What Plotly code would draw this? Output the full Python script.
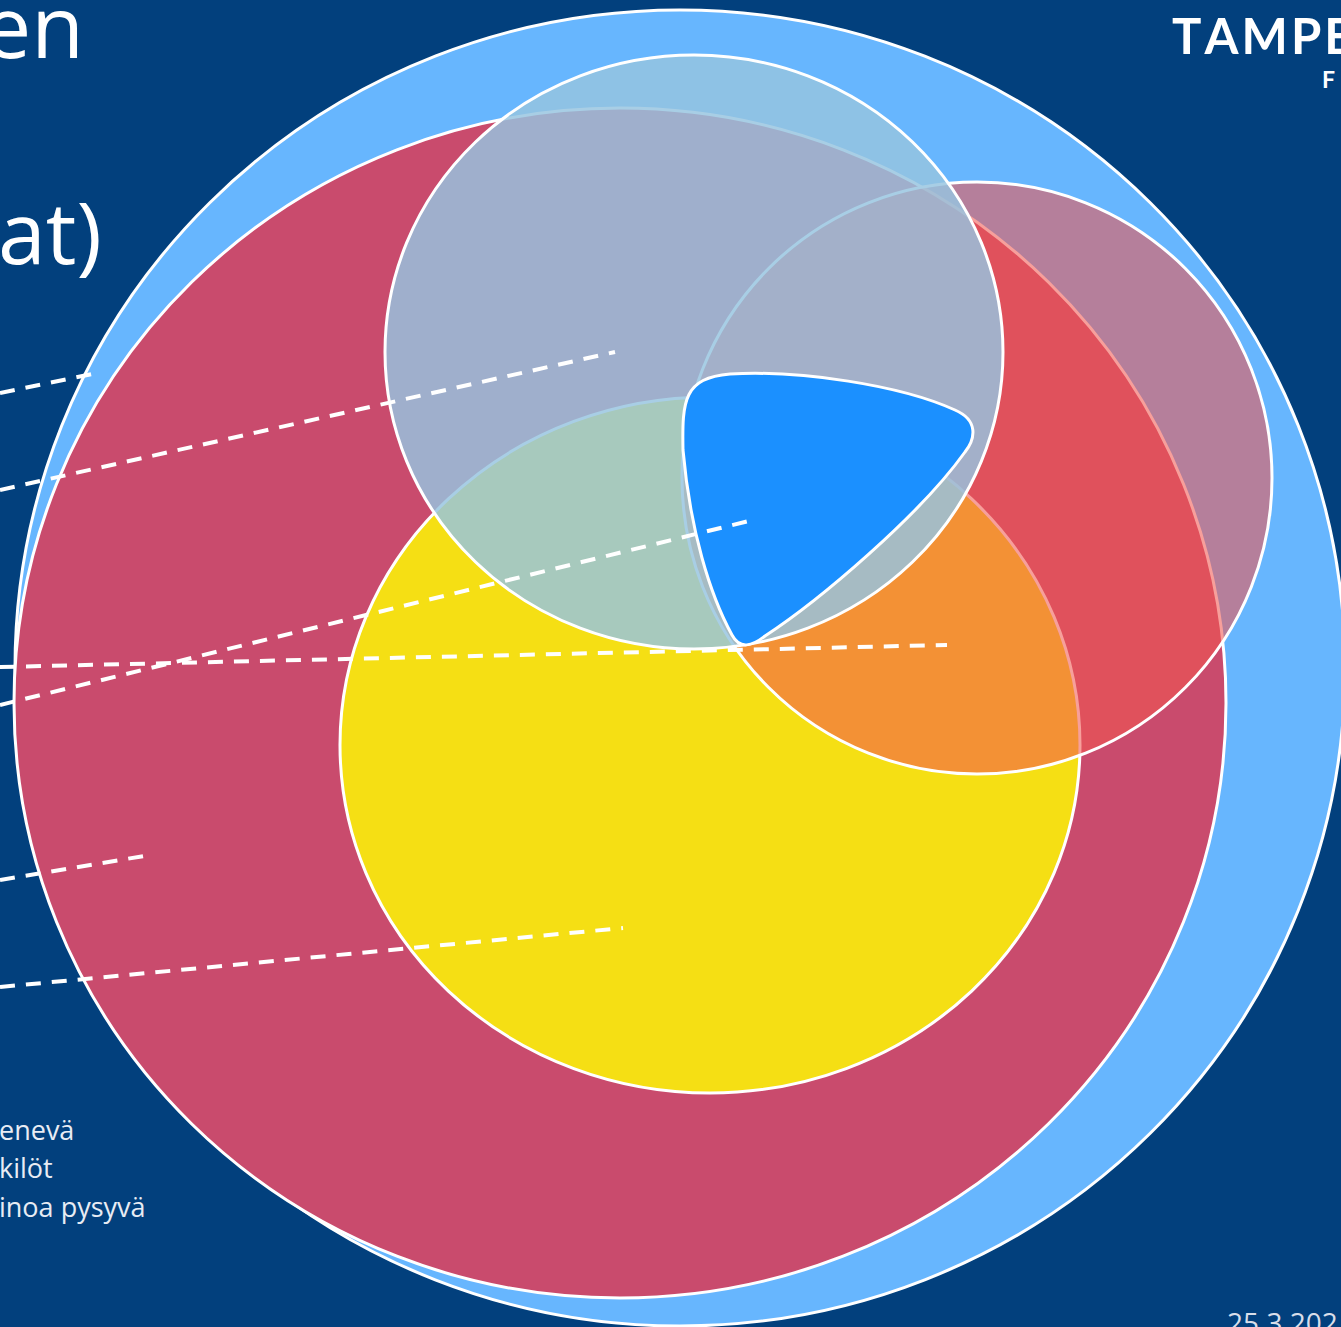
import plotly.graph_objects as go

# ---------------- data ----------------
BG = "#02407D"

# Venn sets (drawn back to front): centre and radii in chart units (pixels of the slide)
set_names = ["outer", "large", "yellow", "right", "top"]
center_x = [680, 620, 710, 977, 694]
center_y = [668, 703, 745, 478, 352]
radius_x = [665, 606, 370, 295, 309]
radius_y = [658, 595, 348, 296, 297]
fill_colors = ["#67B6FE", "#C94B6D", "#F5DF14", "rgba(241,87,80,0.57)", "rgba(150,196,224,0.83)"]

# core (intersection) rounded triangle control points
core_x = [683, 682, 684, 730, 800, 900, 955, 978, 976, 965, 920, 820, 765, 752, 740, 732, 710, 690, 683]
core_y = [450, 400, 378, 374, 370, 385, 410, 420, 438, 452, 515, 600, 636, 646, 650, 635, 595, 530, 450]

# dashed leader lines (start at left edge, end inside regions)
leader_x0 = [0, 0, 0, 0, 0, 0]
leader_y0 = [393, 490, 705, 667, 880, 987]
leader_x1 = [97, 615, 757, 947, 150, 623]
leader_y1 = [373, 352, 519, 645, 855, 928]

title_parts = ["en", "at)"]
note_lines = ["enevä", "kilöt", "inoa pysyvä"]
date_text = "25.3.202"
logo_text = "TAMPE"
logo_sub = "F"

# ---------------- figure ----------------
fig = go.Figure()
shapes = []
for i in range(len(set_names)):
    shapes.append(dict(
        type="circle", xref="x", yref="y", layer="below",
        x0=center_x[i] - radius_x[i], x1=center_x[i] + radius_x[i],
        y0=center_y[i] - radius_y[i], y1=center_y[i] + radius_y[i],
        fillcolor=fill_colors[i], line=dict(color="white", width=3),
    ))

# build core path from control points
p = f"M {core_x[0]},{core_y[0]}"
for k in range(1, len(core_x), 3):
    p += f" C {core_x[k]},{core_y[k]} {core_x[k+1]},{core_y[k+1]} {core_x[k+2]},{core_y[k+2]}"
p += " Z"
shapes.append(dict(type="path", path=p, xref="x", yref="y", layer="below",
                   fillcolor="#1B90FF", line=dict(color="white", width=3)))

for i in range(len(leader_x0)):
    fig.add_trace(go.Scatter(
        x=[leader_x0[i], leader_x1[i]], y=[leader_y0[i], leader_y1[i]],
        mode="lines", line=dict(color="white", width=4, dash="15px,11px"),
        hoverinfo="skip", showlegend=False,
    ))

ann = []
title_font = dict(family="Open Sans", size=86, color="white")
ann.append(dict(x=86, y=24, text=title_parts[0], xanchor="right", yanchor="middle",
                showarrow=False, font=title_font, xref="x", yref="y"))
ann.append(dict(x=104, y=230, text=title_parts[1], xanchor="right", yanchor="middle",
                showarrow=False, font=title_font, xref="x", yref="y"))
note_y = [1129, 1167, 1206]
for t, yy in zip(note_lines, note_y):
    ann.append(dict(x=0, y=yy, xshift=-3, text=t, xanchor="left", yanchor="middle", showarrow=False,
                    font=dict(family="Open Sans", size=27, color="#E8ECF4"), xref="x", yref="y"))
ann.append(dict(x=1225, y=1322, text=date_text, xanchor="left", yanchor="middle", showarrow=False,
                font=dict(family="Open Sans", size=28, color="#D8DEEA"), xref="x", yref="y"))
ann.append(dict(x=1170, y=35, text="<b>" + "\u200a".join(logo_text) + "</b>", xanchor="left",
                yanchor="middle", showarrow=False,
                font=dict(family="Lato", size=49, color="white"), xref="x", yref="y"))
ann.append(dict(x=1320, y=79, text="<b>" + logo_sub + "</b>", xanchor="left", yanchor="middle",
                showarrow=False, font=dict(family="Lato", size=23, color="white"), xref="x", yref="y"))

fig.update_layout(
    width=1341, height=1327, autosize=False,
    margin=dict(l=0, r=0, t=0, b=0, pad=0),
    paper_bgcolor=BG, plot_bgcolor=BG,
    shapes=shapes, annotations=ann, showlegend=False,
    xaxis=dict(range=[0, 1341], visible=False, fixedrange=True),
    yaxis=dict(range=[1327, 0], visible=False, fixedrange=True),
)

fig.write_html("out.html", config={"displayModeBar": False},
               post_script="document.body.style.margin='0';")
